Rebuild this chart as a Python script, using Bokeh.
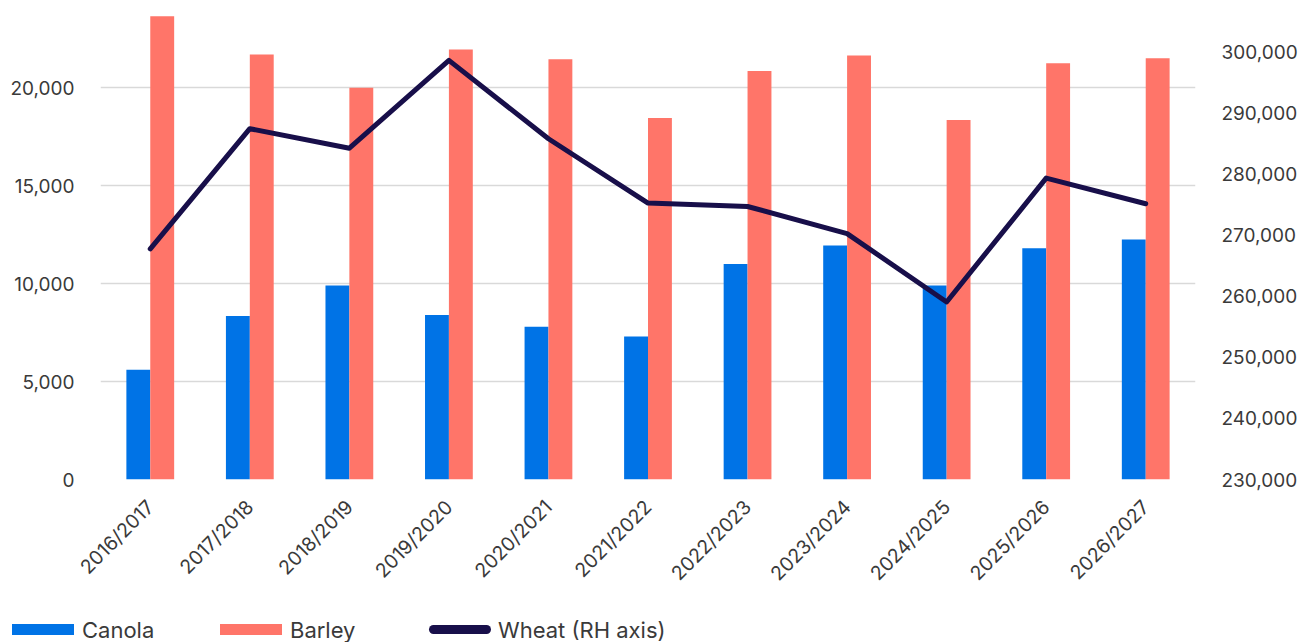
from bokeh.plotting import figure
from bokeh.layouts import column
from bokeh.models import (ColumnDataSource, FactorRange, Range1d, LinearAxis,
                          FixedTicker, NumeralTickFormatter, Div)
from bokeh.transform import dodge
from bokeh.embed import file_html
from bokeh.resources import INLINE
import math

seasons = ["2016/2017", "2017/2018", "2018/2019", "2019/2020", "2020/2021",
           "2021/2022", "2022/2023", "2023/2024", "2024/2025", "2025/2026",
           "2026/2027"]
canola = [5600, 8350, 9900, 8400, 7800, 7300, 11000, 11950, 9900, 11800, 12250]
barley = [23650, 21700, 20000, 21950, 21450, 18450, 20850, 21650, 18350, 21250, 21500]
wheat = [267800, 287500, 284300, 298700, 285850, 275300, 274750, 270300,
         259100, 279400, 275200]

left_ticks = [0, 5000, 10000, 15000, 20000]
right_ticks = [230000, 240000, 250000, 260000, 270000, 280000, 290000, 300000]
series_names = ["Canola", "Barley", "Wheat (RH axis)"]

BLUE = "#0073E6"
SALMON = "#FF7569"
NAVY = "#180F4A"
FONT = "Inter"
LABEL = "#3a3a3a"

src = ColumnDataSource(dict(season=seasons, canola=canola, barley=barley, wheat=wheat))

p = figure(width=1301, height=600, x_range=FactorRange(*seasons),
           y_range=Range1d(0, 24454), output_backend="svg",
           toolbar_location=None, min_border_left=100, min_border_right=106,
           min_border_top=0, min_border_bottom=121)
p.outline_line_color = None
p.extra_y_ranges = {"wheat": Range1d(230000, 308509)}

p.vbar(x=dodge("season", -0.12, range=p.x_range), top="canola", width=0.24,
       source=src, fill_color=BLUE, line_color=None)
p.vbar(x=dodge("season", 0.12, range=p.x_range), top="barley", width=0.24,
       source=src, fill_color=SALMON, line_color=None)
p.line(x="season", y="wheat", source=src, y_range_name="wheat",
       line_color=NAVY, line_width=5, line_join="round", line_cap="round")

# left axis
ya = p.yaxis[0]
ya.ticker = FixedTicker(ticks=left_ticks)
ya.formatter = NumeralTickFormatter(format="0,0")
ya.axis_line_color = None
ya.major_tick_line_color = None
ya.minor_tick_line_color = None
ya.major_label_standoff = 20
ya.major_label_text_font = FONT
ya.major_label_text_font_size = "19px"
ya.major_label_text_color = LABEL

# right axis for wheat
ra = LinearAxis(y_range_name="wheat", ticker=FixedTicker(ticks=right_ticks),
                formatter=NumeralTickFormatter(format="0,0"))
ra.axis_line_color = None
ra.major_tick_line_color = None
ra.minor_tick_line_color = None
ra.major_label_standoff = 20
ra.major_label_text_font = FONT
ra.major_label_text_font_size = "19px"
ra.major_label_text_color = LABEL
p.add_layout(ra, "right")

xa = p.xaxis[0]
xa.axis_line_color = None
xa.major_tick_line_color = None
xa.minor_tick_line_color = None
xa.major_label_orientation = math.pi / 4
xa.major_label_standoff = 18
xa.major_label_text_font = FONT
xa.major_label_text_font_size = "19.5px"
xa.major_label_text_color = LABEL

p.xgrid.grid_line_color = None
p.ygrid.grid_line_color = "#d9d9d9"
p.ygrid.grid_line_width = 1.5

# legend strip under the chart (key swatch + label per series)
keys = [
    (series_names[0], BLUE, 12, 82, "0"),
    (series_names[1], SALMON, 220, 290, "0"),
    (series_names[2], NAVY, 429, 498, "6px"),
]
parts = []
for name, color, kx, tx, radius in keys:
    h = 11 if radius == "0" else 9
    top = 24 if radius == "0" else 25
    parts.append(
        f'<span style="position:absolute;left:{kx}px;top:{top}px;width:62px;'
        f'height:{h}px;background:{color};border-radius:{radius}"></span>'
        f'<span style="position:absolute;left:{tx}px;top:16px;line-height:28px;'
        f'white-space:nowrap">{name}</span>')
legend_html = (f'<div style="position:relative;width:1301px;height:42px;'
               f'font-family:{FONT};font-size:22px;color:{LABEL}">'
               + "".join(parts) + "</div>")
legend = Div(text=legend_html, width=1301, height=42, margin=0)

open("out.html", "w").write(file_html(column(p, legend, spacing=0), INLINE))
